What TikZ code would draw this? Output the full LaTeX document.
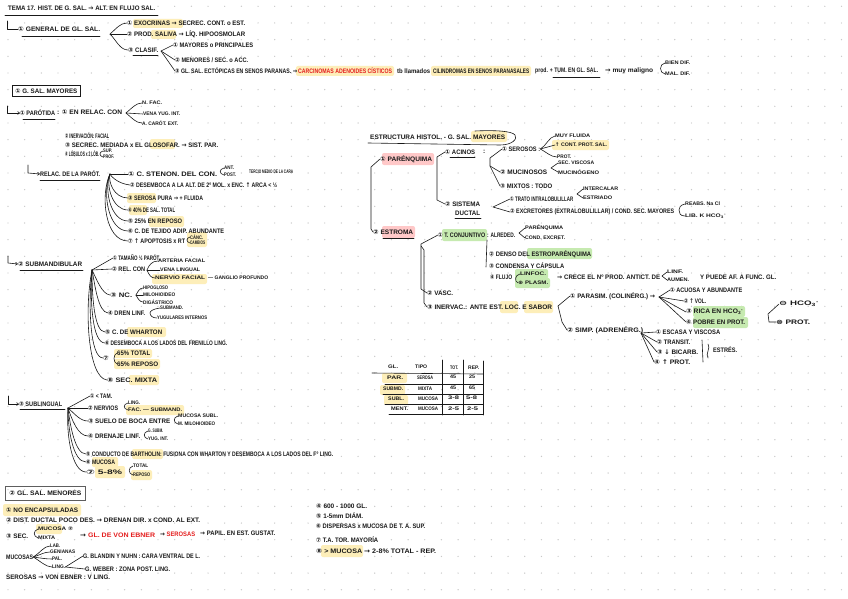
\documentclass[tikz,border=0pt]{standalone}
\usepackage{fontspec}
\usepackage{graphicx}
\setmainfont{Liberation Sans}
\newfontfamily\symf{DejaVu Sans}
\usetikzlibrary{calc,arrows.meta}
\definecolor{hly}{RGB}{253,238,185}
\definecolor{hlp}{RGB}{255,200,200}
\definecolor{hlg}{RGB}{198,234,176}
\definecolor{hred}{RGB}{228,30,30}
\definecolor{dotc}{RGB}{200,200,200}
\definecolor{ink}{RGB}{25,25,25}
\newcommand\fitw[2]{\resizebox{#1pt}{\height}{#2}}
\newcommand\cn[1]{{\symf #1}}
\newcommand\ar{{\symf →}}
\newcommand\upa{{\symf ↑}}
\newcommand\dna{{\symf ↓}}
\begin{document}
\begin{tikzpicture}[x=1pt,y=-1pt,
 tx/.style={anchor=west,inner sep=0pt,text=ink,font=\fontsize{6.5}{7.5}\selectfont\bfseries},
 txs/.style={tx,font=\fontsize{5.1}{6}\selectfont\bfseries},
 ln/.style={draw=ink,line width=0.6pt,line cap=round,line join=round},
 arr/.style={ln,-{Straight Barb[length=2pt,width=3pt]}},
 hl/.style={rounded corners=2pt}]
\useasboundingbox (0,0) rectangle (848,599);
\fill[white] (0,0) rectangle (848,599);
\foreach \i in {0,...,50} \foreach \j in {0,...,35} \fill[dotc] (8+16.67*\i, 6.3+16.67*\j) circle (0.7);
% highlights
\fill[hly,hl] (133,19) rectangle (183,28);
\fill[hly,hl] (151,30) rectangle (176,39);
\fill[hly,hl] (296,66) rectangle (394,76);
\fill[hly,hl] (431,66) rectangle (531,76);
\fill[hly,hl] (150,139) rectangle (175,149);
\fill[hly,hl] (127,193) rectangle (156,203);
\fill[hly,hl] (129,205) rectangle (147,215);
\fill[hly,hl] (149,216) rectangle (184,227);
\fill[hly,hl] (187,232) rectangle (207,247);
\fill[hly,hl] (152,274) rectangle (207,284);
\fill[hly,hl] (127,327) rectangle (166,337);
\fill[hly,hl] (114,349) rectangle (152,358);
\fill[hly,hl] (114,359) rectangle (160,369);
\fill[hly,hl] (129,375) rectangle (159,385);
\fill[hly,hl] (126,405) rectangle (184,415);
\fill[hly,hl] (132,449) rectangle (163,459);
\fill[hly,hl] (92,457) rectangle (118,467);
\fill[hly,hl] (95,466) rectangle (125,478);
\fill[hly,hl] (131,470) rectangle (152,480);
\fill[hly,hl] (3,504) rectangle (81,516);
\fill[hly,hl] (36,524) rectangle (62,534);
\fill[hly,hl] (321,545) rectangle (363,557);
\fill[hly,hl] (471,131) rectangle (507,142);
\fill[hlp,hl] (382,153) rectangle (434,165);
\fill[hlp,hl] (382,226) rectangle (415,238);
\fill[hly,hl] (552,140) rectangle (609,150);
\fill[hlg,hl] (442,229) rectangle (487,241);
\fill[hlg,hl] (527,248) rectangle (592,259);
\fill[hlg,hl] (515,269) rectangle (548,279);
\fill[hlg,hl] (515,278) rectangle (550,288);
\fill[hly,hl] (500,301) rectangle (518,313);
\fill[hly,hl] (524,301) rectangle (553,313);
\fill[hlg,hl] (693,306) rectangle (745,317);
\fill[hlg,hl] (693,317) rectangle (748,328);
\fill[hly,hl] (382,373) rectangle (407,383);
\fill[hly,hl] (380,385) rectangle (405,395);
\fill[hly,hl] (384,395) rectangle (408,405);
% ---------- top
\node[tx] (tema) at (8,8) {\fitw{147}{TEMA 17. HIST. DE G. SAL. \ar{} ALT. EN FLUJO SAL.}};
\draw[ln] (5,15) -- (158,15);
\node[tx] (gen) at (18,29) {\fitw{82}{\cn{①} GENERAL DE GL. SAL.}};
\draw[ln] (7,21) -- (7,29) -- (gen.west);
\draw[ln] (22,36) -- (100,36);
\coordinate (v1) at (110,34);
\node[tx] (exo) at (127,23) {\fitw{118}{\cn{①} EXOCRINAS \ar{} SECREC. CONT. o EST.}};
\node[tx] (prod) at (127,34) {\fitw{118}{\cn{②} PROD. SALIVA \ar{} LÍQ. HIPOOSMOLAR}};
\node[tx] (clas) at (128,50) {\fitw{30}{\cn{③} CLASIF.}};
\draw[ln] (133,55) -- (158,55);
\draw[ln] (v1) .. controls (116,29) and (120,23) .. (exo.west);
\draw[ln] (v1) -- (prod.west);
\draw[ln] (v1) .. controls (116,40) and (120,50) .. (clas.west);
\coordinate (v2) at (161,51);
\node[tx] (may) at (173,45) {\fitw{80}{\cn{①} MAYORES o PRINCIPALES}};
\node[tx] (men) at (175,60) {\fitw{73}{\cn{②} MENORES / SEC. o ACC.}};
\node[tx] (ect) at (175,71) {\fitw{122}{\cn{③} GL. SAL. ECTÓPICAS EN SENOS PARANAS. \ar}};
\draw[ln] (v2) -- (may.west);
\draw[ln] (v2) -- (men.west);
\draw[ln] (v2) -- (ect.west);
\node[tx,text=hred] (carc) at (298,71) {\fitw{94}{CARCINOMAS ADENOIDES CÍSTICOS}};
\node[tx] (tb) at (397,71) {\fitw{33}{tb llamados}};
\node[tx] (cil) at (433,71) {\fitw{96}{CILINDROMAS EN SENOS PARANASALES}};
\node[tx] (prd) at (535,71) {\fitw{63}{prod. + TUM. EN GL. SAL.}};
\draw[ln] (553,77) -- (600,77);
\node[tx] (malig) at (605,71) {\fitw{48}{\ar{} muy maligno}};
\node[txs] (bdif) at (665,63) {\fitw{25}{BIEN DIF.}};
\node[txs] (mdif) at (665,74) {\fitw{25}{MAL. DIF.}};
\draw[ln] (bdif.west) .. controls (659,64) and (659,73) .. (mdif.west);
% ---------- mayores
\node[tx,draw=ink,line width=0.7pt,inner xsep=3pt,minimum height=11pt] (bmay) at (12,91) {\fitw{62}{\cn{①} G. SAL. MAYORES}};
\node[tx] (par) at (20,113) {\fitw{35}{\cn{①} PARÓTIDA}};
\draw[arr] (7,106) -- (7,113) -- (par.west);
\draw[ln] (23,119) -- (55,119);
\node[tx] (rel) at (57,112) {\fitw{65}{: \cn{①} EN RELAC. CON}};
\coordinate (v3) at (126,113);
\node[txs] (nfac) at (142,103) {\fitw{20}{N. FAC.}};
\node[txs] (vena) at (143,114) {\fitw{37}{VENA YUG. INT.}};
\node[txs] (acar) at (142,123) {\fitw{36}{A. CARÓT. EXT.}};
\draw[ln] (v3) .. controls (132,108) and (136,103) .. (nfac.west);
\draw[ln] (v3) -- (vena.west);
\draw[ln] (v3) .. controls (132,118) and (136,123) .. (acar.west);
\node[tx] (pinerv) at (65,136) {\fitw{44}{\cn{②} INERVACIÓN: FACIAL}};
\node[tx] (secr) at (65,145) {\fitw{153}{\cn{③} SECREC. MEDIADA x EL GLOSOFAR. \ar{} SIST. PAR.}};
\node[tx] (lob) at (65,154) {\fitw{34}{\cn{④} LÓBULOS x 2 LÓB.}};
\node[txs] (sup) at (103,151) {\fitw{9}{SUP.}};
\node[txs] (prof) at (103,157) {\fitw{11}{PROF.}};
\draw[ln] (sup.west) .. controls (99,152) and (99,156) .. (prof.west);
% ---------- relac
\node[tx] (relp) at (40,174) {\fitw{60}{RELAC. DE LA PARÓT.}};
\draw[arr] (28,165) -- (28,173) -- (relp.west);
\draw[ln] (40,180) -- (100,180);
\coordinate (v4) at (110,174);
\node[tx] (r1) at (128,174) {\fitw{89}{\cn{①} C. STENON. DEL CON.}};
\node[txs] (r1a) at (224,168) {\fitw{10}{ANT.}};
\node[txs] (r1b) at (224,175) {\fitw{12}{POST.}};
\draw[ln] (r1a.west) .. controls (219,169) and (219,174) .. (r1b.west);
\node[txs] (r1c) at (249,172) {\fitw{44}{TERCIO MEDIO DE LA CARA}};
\node[tx] (r2) at (130,185) {\fitw{147}{\cn{②} DESEMBOCA A LA ALT. DE 2º MOL. x ENC. \upa{} ARCA < ½}};
\node[tx] (r3) at (128,198) {\fitw{75}{\cn{③} SEROSA PURA \ar{} + FLUIDA}};
\node[tx] (r4) at (128,210) {\fitw{47}{\cn{④} 40\% DE SAL. TOTAL}};
\node[tx] (r5) at (128,221) {\fitw{54}{\cn{⑤} 25\% EN REPOSO}};
\node[tx] (r6) at (128,231) {\fitw{96}{\cn{⑥} C. DE TEJIDO ADIP. ABUNDANTE}};
\node[tx] (r7) at (128,241) {\fitw{57}{\cn{⑦} \upa{} APOPTOSIS x RT}};
\node[txs] (r7a) at (190,237) {\fitw{13}{CÁNC.}};
\node[txs] (r7b) at (190,243) {\fitw{15}{CAMBIOS}};
\draw[ln] (r7a.west) .. controls (186,238) and (186,242) .. (r7b.west);
\draw[ln] (v4) -- (r1.west);
\draw[ln] (v4) .. controls (112,178) and (120,184) .. (r2.west);
\draw[ln] (v4) .. controls (108,182) and (114,198) .. (r3.west);
\draw[ln] (v4) .. controls (106,185) and (112,210) .. (r4.west);
\draw[ln] (v4) .. controls (104,188) and (110,221) .. (r5.west);
\draw[ln] (v4) .. controls (102,192) and (108,231) .. (r6.west);
\draw[ln] (v4) .. controls (100,195) and (105,241) .. (r7.west);
% ---------- submandibular
\node[tx] (subm) at (18,264) {\fitw{64}{\cn{②} SUBMANDIBULAR}};
\draw[arr] (8,256) -- (8,263) -- (subm.west);
\draw[ln] (20,270) -- (83,270);
\coordinate (v5) at (92,270);
\node[tx] (s1) at (113,258) {\fitw{47}{\cn{①} TAMAÑO ½ PARÓT.}};
\node[tx] (s2) at (112,269) {\fitw{33}{\cn{②} REL. CON}};
\node[txs] (s2a) at (158,261) {\fitw{47}{ARTERIA FACIAL}};
\node[txs] (s2b) at (160,270) {\fitw{40}{VENA LINGUAL}};
\node[txs] (s2c) at (155,278) {\fitw{50}{NERVIO FACIAL}};
\node[txs] (s2d) at (208,278) {\fitw{60}{— GANGLIO PROFUNDO}};
\coordinate (v6) at (147,270);
\draw[ln] (v6) .. controls (149,265) and (152,261) .. (s2a.west);
\draw[ln] (v6) -- (s2b.west);
\draw[ln] (v6) .. controls (149,275) and (151,278) .. (s2c.west);
\node[tx] (s3) at (110,295) {\fitw{22}{\cn{③} NC.}};
\node[txs] (s3a) at (143,288) {\fitw{25}{HIPOGLOSO}};
\node[txs] (s3b) at (143,295) {\fitw{32}{MILOHIOIDEO}};
\node[txs] (s3c) at (143,302) {\fitw{30}{DIGÁSTRICO}};
\coordinate (v7) at (136,295);
\draw[ln] (v7) .. controls (138,291) and (140,288) .. (s3a.west);
\draw[ln] (v7) -- (s3b.west);
\draw[ln] (v7) .. controls (138,299) and (140,302) .. (s3c.west);
\node[tx] (s4) at (108,313) {\fitw{37}{\cn{④} DREN LINF.}};
\node[txs] (s4a) at (160,308) {\fitw{23}{SUBMAND.}};
\node[txs] (s4b) at (157,318) {\fitw{50}{YUGULARES INTERNOS}};
\coordinate (v8) at (150,313);
\draw[ln] (s4a.west) .. controls (153,309) and (150,311) .. (v8) .. controls (150,316) and (153,318) .. (s4b.west);
\node[tx] (s5) at (105,332) {\fitw{57}{\cn{⑤} C. DE WHARTON}};
\node[tx] (s6) at (105,343) {\fitw{122}{\cn{⑥} DESEMBOCA A LOS LADOS DEL FRENILLO LING.}};
\node[tx] (s7) at (103,358) {\cn{⑦}};
\node[tx] (s7a) at (117,353) {\fitw{33}{65\% TOTAL}};
\node[tx] (s7b) at (117,364) {\fitw{41}{65\% REPOSO}};
\draw[ln] (s7a.west) .. controls (113,355) and (113,362) .. (s7b.west);
\node[tx] (s8) at (107,380) {\fitw{50}{\cn{⑧} SEC. MIXTA}};
\draw[ln] (v5) -- (s1.west);
\draw[ln] (v5) -- (s2.west);
\draw[ln] (v5) .. controls (97,280) and (102,294) .. (s3.west);
\draw[ln] (v5) .. controls (95,285) and (98,312) .. (s4.west);
\draw[ln] (v5) .. controls (92,295) and (94,332) .. (s5.west);
\draw[ln] (v5) .. controls (90,300) and (92,343) .. (s6.west);
\draw[ln] (v5) .. controls (88,305) and (90,358) .. (s7.west);
\draw[ln] (v5) .. controls (84,310) and (88,378) .. (s8.west);
% ---------- sublingual
\node[tx] (subl) at (19,404) {\fitw{43}{\cn{③} SUBLINGUAL}};
\draw[arr] (8,396) -- (8,404) -- (subl.west);
\draw[ln] (20,409) -- (65,409);
\coordinate (v9) at (68,408);
\node[tx] (l1) at (90,396) {\fitw{22}{\cn{①} < TAM.}};
\node[tx] (l2) at (88,408) {\fitw{30}{\cn{②} NERVIOS}};
\node[txs] (l2a) at (128,403) {\fitw{12}{LING.}};
\node[txs] (l2b) at (128,410) {\fitw{54}{FAC. — SUBMAND.}};
\draw[ln] (l2a.west) .. controls (123,404) and (123,409) .. (l2b.west);
\node[tx] (l3) at (88,421) {\fitw{82}{\cn{③} SUELO DE BOCA ENTRE}};
\node[txs] (l3a) at (178,416) {\fitw{40}{MUCOSA SUBL.}};
\node[txs] (l3b) at (178,424) {\fitw{37}{M. MILOHIOIDEO}};
\draw[ln] (l3a.west) .. controls (173,417) and (173,423) .. (l3b.west);
\node[tx] (l4) at (88,436) {\fitw{52}{\cn{④} DRENAJE LINF.}};
\node[txs] (l4a) at (148,431) {\fitw{15}{G. SUBM.}};
\node[txs] (l4b) at (148,439) {\fitw{20}{YUG. INT.}};
\draw[ln] (l4a.west) .. controls (143,432) and (143,438) .. (l4b.west);
\node[tx] (l5) at (86,454) {\fitw{247}{\cn{⑤} CONDUCTO DE BARTHOLIN: FUSIONA CON WHARTON Y DESEMBOCA A LOS LADOS DEL Fº LING.}};
\node[tx] (l6) at (86,462) {\fitw{29}{\cn{⑥} MUCOSA}};
\node[tx] (l7) at (86,472) {\fitw{36}{\cn{⑦} 5-8\%}};
\node[txs] (l7a) at (133,466) {\fitw{15}{TOTAL}};
\node[txs] (l7b) at (133,475) {\fitw{17}{REPOSO}};
\draw[ln] (l7a.west) .. controls (128,467) and (128,474) .. (l7b.west);
\draw[ln] (v9) -- (l1.west);
\draw[ln] (v9) -- (l2.west);
\draw[ln] (v9) .. controls (75,414) and (80,421) .. (l3.west);
\draw[ln] (v9) .. controls (72,420) and (78,436) .. (l4.west);
\draw[ln] (v9) .. controls (70,425) and (75,454) .. (l5.west);
\draw[ln] (v9) .. controls (68,430) and (73,462) .. (l6.west);
\draw[ln] (v9) .. controls (66,435) and (72,472) .. (l7.west);
% ---------- menores
\node[tx,draw=ink!70,line width=0.9pt,inner xsep=4pt,minimum height=14pt] (bmen) at (5,493) {\fitw{72}{\cn{②} GL. SAL. MENORES}};
\node[tx] (m1) at (6,510) {\fitw{72}{\cn{①} NO ENCAPSULADAS}};
\node[tx] (m2) at (6,520) {\fitw{194}{\cn{②} DIST. DUCTAL POCO DES. \ar{} DRENAN DIR. x COND. AL EXT.}};
\node[tx] (m3) at (6,536) {\fitw{22}{\cn{③} SEC.}};
\node[txs] (m3a) at (38,529) {\fitw{35}{MUCOSA \cn{②}}};
\node[txs] (m3b) at (38,538) {\fitw{17}{MIXTA}};
\draw[ln] (m3a.west) .. controls (33,531) and (33,536) .. (m3b.west);
\node[tx] (m4) at (80,535) {\fitw{75}{\ar{} \textcolor{hred}{GL. DE VON EBNER}}};
\node[tx] (m5) at (160,534) {\fitw{35}{\ar{} \textcolor{hred}{SEROSAS}}};
\node[tx] (m6) at (200,533) {\fitw{75}{\ar{} PAPIL. EN EST. GUSTAT.}};
\node[tx] (muc) at (6,557) {\fitw{27}{MUCOSAS}};
\node[txs] (mlab) at (50,546) {\fitw{10}{LAB.}};
\node[txs] (mgen) at (50,552) {\fitw{25}{GENIANAS}};
\node[txs] (mpal) at (52,559) {\fitw{10}{PAL.}};
\node[txs] (mlin) at (52,567) {\fitw{13}{LING.}};
\draw[ln] (muc.east) .. controls (40,553) and (44,546) .. (mlab.west);
\draw[ln] (muc.east) .. controls (40,555) and (44,552) .. (mgen.west);
\draw[ln] (muc.east) .. controls (40,558) and (46,559) .. (mpal.west);
\draw[ln] (muc.east) .. controls (40,561) and (46,567) .. (mlin.west);
\node[tx] (mbla) at (83,556) {\fitw{117}{G. BLANDIN Y NUHN : CARA VENTRAL DE L.}};
\node[tx] (mweb) at (85,569) {\fitw{85}{G. WEBER : ZONA POST. LING.}};
\draw[ln] (mlin.east) -- (mbla.west);
\draw[ln] (mlin.east) -- (mweb.west);
\node[tx] (mser) at (6,577) {\fitw{104}{SEROSAS \ar{} VON EBNER : V LING.}};
% right list
\node[tx] (b1) at (316,506) {\fitw{51}{\cn{④} 600 - 1000 GL.}};
\node[tx] (b2) at (316,516) {\fitw{47}{\cn{⑤} 1-5mm DIÁM.}};
\node[tx] (b3) at (316,526) {\fitw{109}{\cn{⑥} DISPERSAS x MUCOSA DE T. A. SUP.}};
\node[tx] (b4) at (316,540) {\fitw{62}{\cn{⑦} T.A. TOR. MAYORÍA}};
\node[tx] (b5) at (316,551) {\fitw{120}{\cn{⑧} > MUCOSA \ar{} 2-8\% TOTAL - REP.}};
% ---------- structure
\node[tx] (est) at (370,137) {\fitw{135}{ESTRUCTURA HISTOL. - G. SAL. MAYORES}};
\draw[ln] (368,143) -- (500,145) .. controls (512,145) and (518,139) .. (515,135) .. controls (512,131) and (495,130) .. (475,131);
\node[tx] (paren) at (380,159) {\fitw{52}{\cn{①} PARÉNQUIMA}};
\node[tx] (estr) at (373,232) {\fitw{40}{\cn{②} ESTROMA}};
\draw[ln] (383,238) -- (414,238);
\draw[ln] (paren.west) -- (371,167) -- (371,229) -- (estr.west);
\node[tx] (acin) at (445,152) {\fitw{30}{\cn{①} ACINOS}};
\draw[ln] (450,157) -- (475,157);
\node[tx] (colon) at (483,152) {:};
\node[tx] (sist) at (445,204) {\fitw{35}{\cn{②} SISTEMA}};
\node[tx] (duct) at (455,213) {\fitw{25}{DUCTAL}};
\draw[ln] (455,218) -- (481,218);
\draw[ln] (acin.west) -- (437,157) -- (437,200) -- (sist.west);
\node[tx] (ser) at (502,149) {\fitw{38}{\cn{①} SEROSOS :}};
\node[txs] (ser1) at (555,136) {\fitw{35}{MUY FLUIDA}};
\node[txs] (ser2) at (555,145) {\fitw{52}{\upa{} CONT. PROT. SAL.}};
\node[txs] (ser3) at (557,157) {\fitw{14}{PROT.}};
\draw[ln] (ser.east) .. controls (546,146) and (549,137) .. (ser1.west);
\draw[ln] (ser.east) -- (ser2.west);
\draw[ln] (ser.east) .. controls (546,152) and (551,157) .. (ser3.west);
\node[tx] (muci) at (500,172) {\fitw{47}{\cn{②} MUCINOSOS}};
\node[txs] (muc1) at (558,163) {\fitw{36}{SEC. VISCOSA}};
\node[txs] (muc2) at (558,172) {\fitw{41}{MUCINÓGENO}};
\draw[ln] (muc1.west) -- (551,168) -- (muc2.west);
\node[tx] (mixt) at (500,186) {\fitw{52}{\cn{③} MIXTOS : TODO}};
\draw[ln] (ser.west) -- (490,158) -- (490,166) -- (muci.west);
\draw[ln] (490,166) -- (mixt.west);
\node[tx] (tra) at (510,199) {\fitw{63}{\cn{①} TRATO INTRALOBULILLAR}};
\node[txs] (tra1) at (583,189) {\fitw{35}{INTERCALAR}};
\node[txs] (tra2) at (583,198) {\fitw{29}{ESTRIADO}};
\draw[ln] (tra1.west) -- (577,194) -- (tra2.west);
\node[tx] (exc) at (510,212) {\fitw{164}{\cn{②} EXCRETORES (EXTRALOBULILLAR) / COND. SEC. MAYORES}};
\node[txs] (exc1) at (685,204) {\fitw{35}{REABS. Na Cl}};
\node[txs] (exc2) at (685,216) {\fitw{41}{LIB. K HCO\textsubscript{3}\textsuperscript{-}}};
\draw[ln] (exc1.west) .. controls (680,205) and (679,208) .. (679,210) .. controls (679,213) and (680,216) .. (exc2.west);
\draw[ln] (tra.west) -- (493,207) -- (exc.west);
\node[tx] (tcon) at (438,235) {\fitw{47}{\cn{①} T. CONJUNTIVO}};
\node[tx] (alr) at (487,235) {\fitw{28}{: ALREDED.}};
\node[txs] (alr1) at (525,228) {\fitw{38}{PARÉNQUIMA}};
\node[txs] (alr2) at (525,238) {\fitw{40}{COND. EXCRET.}};
\draw[ln] (alr1.west) -- (519,233) -- (alr2.west);
\node[tx] (dens) at (489,254) {\fitw{102}{\cn{②} DENSO DEL ESTROPARÉNQUIMA}};
\node[tx] (cond) at (489,266) {\fitw{75}{\cn{③} CONDENSA Y CÁPSULA}};
\node[tx] (fluj) at (490,277) {\fitw{22}{\cn{④} FLUJO}};
\node[txs] (lin) at (520,274) {\fitw{26}{LINFOC.}};
\node[txs] (pla) at (518,283) {\fitw{30}{{\symf ⊕} PLASM.}};
\draw[ln] (lin.west) .. controls (515,275) and (514,281) .. (pla.west);
\draw[ln] (487,240) -- (486,267);
\node[tx] (crec) at (557,277) {\fitw{103}{\ar{} CRECE EL Nº PROD. ANTICT. DE}};
\node[txs] (crec1) at (667,272) {\fitw{16}{LINF.}};
\node[txs] (crec2) at (667,280) {\fitw{22}{AUMEN.}};
\draw[ln] (crec1.west) -- (662,276) -- (crec2.west);
\node[tx] (crec3) at (700,277) {\fitw{76}{Y PUEDE AF. A FUNC. GL.}};
\node[tx] (vasc) at (427,293) {\fitw{26}{\cn{②} VASC.}};
\node[tx] (inerv) at (427,307) {\fitw{125}{\cn{③} INERVAC.: ANTE EST. LOC. E SABOR}};
\draw[ln] (tcon.west) -- (421,244) -- (421,289) -- (vasc.west);
\draw[ln] (421,246) -- (424,250) -- (424,303) -- (inerv.west);
\node[tx] (psim) at (570,296) {\fitw{85}{\cn{①} PARASIM. (COLINÉRG.) \ar}};
\node[tx] (sim) at (567,330) {\fitw{76}{\cn{②} SIMP. (ADRENÉRG.)}};
\draw[ln] (psim.west) -- (558,306) -- (562,322) -- (sim.west);
\coordinate (v10) at (659,297);
\node[tx] (pa1) at (670,290) {\fitw{72}{\cn{①} ACUOSA Y ABUNDANTE}};
\node[tx] (pa2) at (684,301) {\fitw{22}{\cn{②} \upa{} VOL.}};
\node[tx] (pa3) at (686,312) {\fitw{57}{\cn{③} RICA EN HCO\textsubscript{3}\textsuperscript{-}}};
\node[tx] (pa4) at (686,322) {\fitw{59}{\cn{④} POBRE EN PROT.}};
\draw[ln] (v10) -- (pa1.west);
\draw[ln] (v10) -- (pa2.west);
\draw[ln] (v10) -- (pa3.west);
\draw[ln] (v10) -- (pa4.west);
\coordinate (v11) at (641,333);
\node[tx] (si1) at (656,332) {\fitw{64}{\cn{①} ESCASA Y VISCOSA}};
\node[tx] (si2) at (657,342) {\fitw{33}{\cn{②} TRANSIT.}};
\node[tx] (si3) at (657,352) {\fitw{41}{\cn{③} \dna{} BICARB.}};
\node[tx] (si4) at (654,362) {\fitw{36}{\cn{④} \upa{} PROT.}};
\draw[ln] (v11) -- (si1.west);
\draw[ln] (v11) -- (si2.west);
\draw[ln] (v11) -- (si3.west);
\draw[ln] (v11) -- (si4.west);
\draw[ln] (702,340) -- (703,362);
\draw[ln] (708,344) .. controls (711,348) and (705,354) .. (708,358);
\node[tx] (estres) at (713,350) {\fitw{24}{ESTRÉS.}};
\node[tx] (hco) at (779,304) {\fitw{40}{{\symf ⊖} HCO\textsubscript{3}\textsuperscript{-}}};
\node[tx] (xpro) at (776,322) {\fitw{34}{{\symf ⊗} PROT.}};
\draw[ln] (hco.west) -- (768,314) -- (769,322) -- (xpro.west);
% ---------- table
\node[txs] (tgl) at (388,367) {\fitw{10}{GL.}};
\node[txs] (ttip) at (415,367) {\fitw{12}{TIPO}};
\node[txs] (ttot) at (450,368) {\fitw{8}{TOT.}};
\node[txs] (trep) at (468,368) {\fitw{11}{REP.}};
\node[txs] (a1) at (387,378) {\fitw{16}{PAR.}};
\node[txs] (a2) at (417,378) {\fitw{16}{SEROSA}};
\node[txs] (a3) at (450,377) {\fitw{6}{45}};
\node[txs] (a4) at (469,377) {\fitw{6}{25}};
\node[txs] (c1) at (383,389) {\fitw{20}{SUBMD.}};
\node[txs] (c2) at (418,389) {\fitw{14}{MIXTA}};
\node[txs] (c3) at (450,388) {\fitw{6}{45}};
\node[txs] (c4) at (469,388) {\fitw{6}{65}};
\node[txs] (d1) at (388,399) {\fitw{16}{SUBL.}};
\node[txs] (d2) at (418,399) {\fitw{20}{MUCOSA}};
\node[txs] (d3) at (448,398) {\fitw{11}{3-8}};
\node[txs] (d4) at (466,398) {\fitw{11}{5-8}};
\node[txs] (e1) at (391,409) {\fitw{17}{MENT.}};
\node[txs] (e2) at (418,409) {\fitw{20}{MUCOSA}};
\node[txs] (e3) at (448,409) {\fitw{11}{2-5}};
\node[txs] (e4) at (467,409) {\fitw{11}{2-5}};
\draw[ln] (372,373) -- (483,374);
\draw[ln] (385,384) -- (483,384);
\draw[ln] (383,394) -- (483,394);
\draw[ln] (385,404) -- (483,404);
\draw[ln] (389,414) -- (483,414);
\draw[ln] (442,360) -- (442,415);
\draw[ln] (463,360) -- (463,415);
\draw[ln] (483,361) -- (483,415);
\end{tikzpicture}
\end{document}
